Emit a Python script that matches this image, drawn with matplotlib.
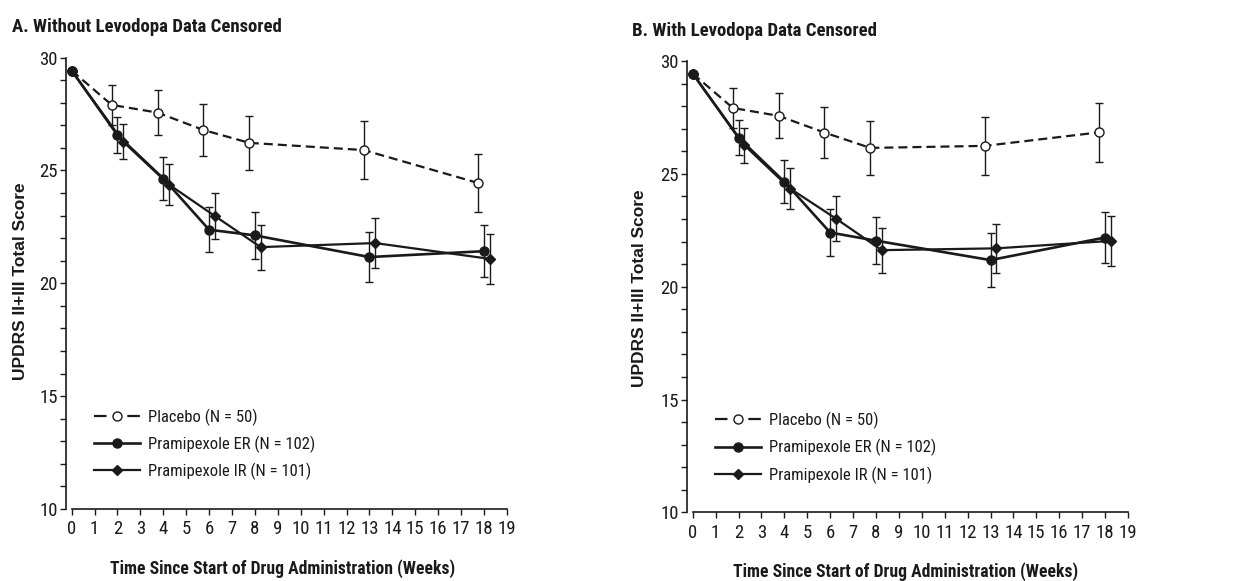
import matplotlib
matplotlib.use("Agg")
import matplotlib.pyplot as plt
from matplotlib.lines import Line2D
from matplotlib.ticker import MultipleLocator

# Condensed sans to mimic the Helvetica Condensed of the original, with fallbacks
plt.rcParams["font.family"] = ["Roboto Condensed", "Liberation Sans", "DejaVu Sans"]
plt.rcParams["lines.scale_dashes"] = False

# ── Data ─────────────────────────────────────────────────────────────
# x positions are slightly dodged per group, as in the original
placebo_x = [0, 1.75, 3.75, 5.75, 7.75, 12.75, 17.75]
er_x = [0, 2.0, 4.0, 6.0, 8.0, 13.0, 18.0]
ir_x = [0, 2.25, 4.25, 6.25, 8.25, 13.25, 18.25]

# Panel A: without levodopa data censored
a_placebo = [29.42, 27.90, 27.56, 26.79, 26.22, 25.90, 24.44]
a_placebo_err = [0, 0.90, 1.00, 1.15, 1.20, 1.30, 1.30]
a_er = [29.42, 26.56, 24.64, 22.37, 22.12, 21.16, 21.42]
a_er_err = [0, 0.80, 0.95, 1.00, 1.05, 1.10, 1.15]
a_ir = [29.42, 26.27, 24.37, 22.98, 21.60, 21.78, 21.08]
a_ir_err = [0, 0.77, 0.90, 1.00, 1.00, 1.10, 1.10]

# Panel B: with levodopa data censored
b_placebo = [29.44, 27.92, 27.57, 26.83, 26.15, 26.24, 26.84]
b_placebo_err = [0, 0.90, 1.00, 1.13, 1.20, 1.30, 1.30]
b_er = [29.44, 26.60, 24.65, 22.40, 22.04, 21.18, 22.18]
b_er_err = [0, 0.78, 0.95, 1.05, 1.05, 1.20, 1.15]
b_ir = [29.44, 26.27, 24.35, 23.02, 21.62, 21.70, 22.03]
b_ir_err = [0, 0.77, 0.90, 1.00, 1.00, 1.10, 1.10]

labels = ["Placebo (N = 50)", "Pramipexole ER (N = 102)", "Pramipexole IR (N = 101)"]
x_ticks = list(range(0, 20))
y_ticks = [10, 15, 20, 25, 30]

INK = "#1a1a1a"
DASH = (0, (6.5, 3.6))


def draw_panel(ax, placebo, placebo_err, er, er_err, ir, ir_err):
    ebar = dict(fmt="none", ecolor=INK, elinewidth=1.0, capsize=2.6, capthick=1.0)

    ax.errorbar(placebo_x, placebo, yerr=placebo_err, zorder=2, **ebar)
    ax.plot(placebo_x, placebo, color=INK, lw=1.6, linestyle=DASH, marker="o",
            ms=6.5, mfc="white", mec=INK, mew=1.0, zorder=3)

    ax.errorbar(er_x, er, yerr=er_err, zorder=4, **ebar)
    ax.plot(er_x, er, color=INK, lw=1.9, marker="o", ms=6.5, mfc=INK, mec=INK, zorder=5)

    ax.errorbar(ir_x, ir, yerr=ir_err, zorder=6, **ebar)
    ax.plot(ir_x, ir, color=INK, lw=1.6, marker="D", ms=5.5, mfc=INK, mec=INK, zorder=7)

    ax.set_xlim(-0.25, 19)
    ax.set_ylim(10, 30)
    ax.set_xticks(x_ticks)
    ax.set_yticks(y_ticks)
    ax.yaxis.set_minor_locator(MultipleLocator(1))
    ax.spines["top"].set_visible(False)
    ax.spines["right"].set_visible(False)
    ax.spines["bottom"].set_bounds(0, 19)
    for s in ("left", "bottom"):
        ax.spines[s].set_linewidth(1.2)
        ax.spines[s].set_color(INK)
    ax.tick_params(axis="both", which="both", direction="out", length=4,
                   width=1.0, color=INK, labelsize=13.5, labelcolor=INK)
    ax.tick_params(axis="x", pad=4)
    ax.tick_params(axis="y", pad=2)

    handles = [
        Line2D([], [], color=INK, lw=1.6, linestyle=(0, (9, 15)), marker="o",
               ms=6.5, mfc="white", mec=INK),
        Line2D([], [], color=INK, lw=1.9, marker="o", ms=6.5, mfc=INK, mec=INK),
        Line2D([], [], color=INK, lw=1.6, marker="D", ms=5.5, mfc=INK, mec=INK),
    ]
    ax.legend(handles, labels, loc="center left", bbox_to_anchor=(0.064, 0.1435),
              frameon=False, fontsize=12, handlelength=2.76, handletextpad=0.45,
              labelspacing=0.6, borderpad=0, borderaxespad=0, labelcolor=INK)


fig = plt.figure(figsize=(12.35, 5.81), dpi=100)
ax_a = fig.add_axes([0.0534, 0.124, 0.357, 0.777])
ax_b = fig.add_axes([0.5563, 0.118, 0.357, 0.777])

draw_panel(ax_a, a_placebo, a_placebo_err, a_er, a_er_err, a_ir, a_ir_err)
draw_panel(ax_b, b_placebo, b_placebo_err, b_er, b_er_err, b_ir, b_ir_err)

# Panel titles and axis labels
fig.text(12 / 1235, 1 - 32 / 581, "A. Without Levodopa Data Censored",
         fontsize=13.5, fontweight="bold", color=INK, ha="left", va="baseline")
fig.text(632 / 1235, 1 - 36 / 581, "B. With Levodopa Data Censored",
         fontsize=13.5, fontweight="bold", color=INK, ha="left", va="baseline")

for x_c, y_c in [(21, 281), (640, 288)]:
    fig.text(x_c / 1235, 1 - y_c / 581, "UPDRS II+III Total Score", rotation=90,
             fontsize=12.5, fontweight="bold", color=INK, ha="center", va="center",
             family=["Liberation Sans", "DejaVu Sans"])
for x_c, y_c in [(283, 574), (906, 577)]:
    fig.text(x_c / 1235, 1 - y_c / 581, "Time Since Start of Drug Administration (Weeks)",
             fontsize=12.7, fontweight="bold", color=INK, ha="center", va="baseline")

fig.savefig("out.png", dpi=100, facecolor="white")
plt.close(fig)
